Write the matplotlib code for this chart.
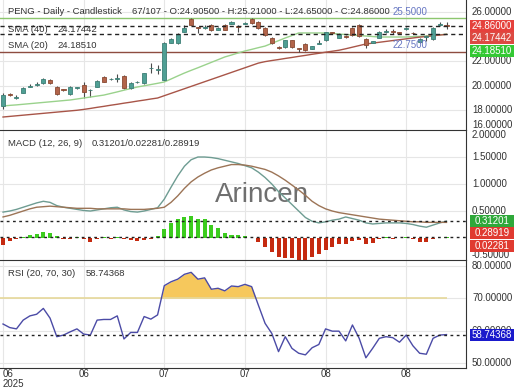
import numpy as np
import matplotlib.pyplot as plt
from matplotlib.patches import Rectangle
from matplotlib.transforms import blended_transform_factory

plt.rcParams['font.family'] = ['Liberation Sans', 'DejaVu Sans']

# ---- data (one value per daily candle) ----
opens = [18.33, 19.30, 19.00, 19.40, 19.90, 20.05, 20.20, 20.45, 19.88, 19.68,
         19.30, 19.78, 20.04, 19.60, 19.88, 20.70, 20.50, 20.53, 20.78, 19.80,
         20.25, 20.20, 21.40, 21.28, 20.45, 23.50, 23.47, 24.40, 25.45, 24.75,
         24.72, 24.94, 24.55, 24.94, 25.05, 24.80, 25.05, 25.45, 25.20, 24.70,
         23.88, 23.12, 23.15, 23.70, 23.05, 23.40, 23.00, 23.42, 23.70, 24.33,
         23.90, 24.05, 24.70, 24.94, 23.80, 23.50, 23.90, 24.35, 24.40, 24.30,
         24.60, 24.30, 23.55, 23.95, 23.80, 24.95, 24.905]
highs = [19.40, 19.35, 19.20, 19.85, 20.15, 20.25, 20.65, 20.50, 19.95, 19.75,
         19.95, 19.90, 20.30, 19.75, 20.45, 20.75, 20.60, 20.90, 20.82, 20.25,
         20.40, 21.05, 21.85, 21.70, 23.55, 23.85, 24.30, 24.90, 25.50, 24.80,
         24.90, 25.00, 24.80, 25.00, 25.25, 24.90, 25.20, 25.50, 25.25, 24.75,
         23.95, 23.20, 23.75, 23.75, 23.10, 23.45, 23.25, 23.70, 24.40, 24.40,
         24.25, 24.10, 24.75, 25.05, 23.85, 23.65, 24.45, 24.60, 24.60, 24.40,
         24.75, 24.35, 23.85, 24.10, 24.75, 25.15, 25.21]
lows = [18.10, 19.15, 18.90, 19.35, 19.85, 20.00, 20.15, 20.15, 19.20, 19.55,
        19.25, 19.70, 18.98, 19.05, 19.85, 20.25, 20.45, 20.30, 19.70, 19.70,
        20.20, 20.15, 21.00, 20.90, 20.35, 23.45, 23.40, 24.35, 24.90, 24.30,
        24.60, 24.45, 24.50, 24.50, 25.00, 24.35, 25.00, 25.05, 24.60, 24.05,
        23.40, 22.95, 23.10, 23.10, 22.75, 22.85, 22.95, 23.35, 23.65, 24.20,
        23.85, 23.90, 24.05, 24.00, 23.06, 23.45, 23.85, 24.25, 24.20, 24.20,
        24.50, 24.20, 23.50, 23.60, 23.75, 24.85, 24.65]
closes = [19.22, 19.20, 19.08, 19.80, 19.98, 20.12, 20.53, 20.20, 19.30, 19.60,
          19.88, 19.82, 19.47, 19.66, 20.37, 20.29, 20.56, 20.55, 19.80, 20.20,
          20.32, 21.00, 21.45, 21.30, 23.47, 23.80, 24.20, 24.70, 24.94, 24.70,
          24.80, 24.53, 24.70, 24.53, 25.15, 24.76, 25.10, 25.10, 24.70, 24.12,
          23.47, 23.05, 23.70, 23.15, 22.98, 22.90, 23.20, 23.50, 24.37, 24.28,
          24.20, 23.98, 24.12, 24.04, 23.30, 23.60, 24.37, 24.40, 24.35, 24.28,
          24.65, 24.25, 23.80, 23.98, 24.70, 25.00, 24.86]
sma20 = [18.33, 18.38, 18.42, 18.47, 18.52, 18.57, 18.62, 18.67, 18.72, 18.77,
         18.82, 18.90, 18.98, 19.06, 19.14, 19.22, 19.35, 19.48, 19.62, 19.75,
         19.88, 19.98, 20.08, 20.18, 20.29, 20.53, 20.78, 21.02, 21.24, 21.45,
         21.67, 21.89, 22.11, 22.33, 22.49, 22.66, 22.82, 22.95, 23.09, 23.22,
         23.44, 23.66, 23.88, 24.08, 24.29, 24.29, 24.29, 24.29, 24.29, 24.25,
         24.20, 24.16, 24.12, 24.08, 24.04, 24.00, 23.96, 23.96, 23.96, 23.96,
         23.96, 23.99, 24.01, 24.04, 24.09, 24.14, 24.1851]
sma40 = [17.43, 17.48, 17.53, 17.58, 17.63, 17.68, 17.73, 17.78, 17.83, 17.88,
         17.93, 17.98, 18.05, 18.13, 18.22, 18.30, 18.39, 18.47, 18.56, 18.64,
         18.73, 18.81, 18.90, 18.98, 19.17, 19.36, 19.55, 19.74, 19.93, 20.12,
         20.31, 20.50, 20.69, 20.88, 21.07, 21.26, 21.45, 21.64, 21.83, 21.95,
         22.04, 22.12, 22.21, 22.29, 22.38, 22.46, 22.55, 22.63, 22.72, 22.80,
         22.88, 23.00, 23.13, 23.26, 23.39, 23.46, 23.53, 23.60, 23.67, 23.74,
         23.81, 23.88, 23.95, 24.00, 24.06, 24.12, 24.17442]
macd = [0.48, 0.50, 0.53, 0.57, 0.61, 0.65, 0.68, 0.66, 0.60, 0.57,
        0.55, 0.53, 0.51, 0.50, 0.52, 0.54, 0.56, 0.57, 0.52, 0.49,
        0.48, 0.50, 0.53, 0.56, 0.72, 0.94, 1.15, 1.33, 1.45, 1.50,
        1.50, 1.49, 1.47, 1.44, 1.41, 1.38, 1.34, 1.30, 1.22, 1.12,
        1.00, 0.86, 0.74, 0.62, 0.50, 0.38, 0.31, 0.28, 0.30, 0.33,
        0.35, 0.39, 0.36, 0.33, 0.28, 0.26, 0.27, 0.28, 0.28, 0.28,
        0.27, 0.25, 0.22, 0.20, 0.24, 0.28, 0.31201]
signal = [0.39, 0.42, 0.46, 0.50, 0.54, 0.57, 0.58, 0.59, 0.58, 0.57,
          0.56, 0.55, 0.55, 0.55, 0.54, 0.54, 0.54, 0.54, 0.54, 0.53,
          0.53, 0.53, 0.54, 0.55, 0.57, 0.66, 0.78, 0.92, 1.04, 1.13,
          1.20, 1.26, 1.30, 1.33, 1.36, 1.36, 1.35, 1.33, 1.30, 1.27,
          1.22, 1.15, 1.07, 0.98, 0.89, 0.79, 0.68, 0.60, 0.54, 0.50,
          0.47, 0.45, 0.43, 0.41, 0.39, 0.37, 0.35, 0.34, 0.33, 0.32,
          0.31, 0.30, 0.30, 0.29, 0.29, 0.29, 0.28919]
hist = [-0.13, -0.06, -0.02, 0.01, 0.05, 0.08, 0.11, 0.09, 0.03, -0.01,
        -0.02, 0.01, -0.02, -0.07, -0.02, 0.01, -0.01, 0.02, -0.02, -0.04,
        -0.06, -0.03, -0.01, 0.04, 0.17, 0.27, 0.35, 0.39, 0.41, 0.36,
        0.35, 0.25, 0.19, 0.10, 0.06, 0.05, 0.04, 0.00, -0.07, -0.17,
        -0.26, -0.35, -0.37, -0.37, -0.41, -0.41, -0.35, -0.29, -0.23, -0.17,
        -0.12, -0.12, -0.05, -0.03, -0.12, -0.10, -0.02, 0.01, -0.02, 0.00,
        0.01, -0.02, -0.07, -0.08, -0.02, 0.00, 0.02281]
rsi = [62.0, 60.9, 60.5, 63.2, 64.5, 65.0, 66.8, 63.8, 58.1, 58.6,
       59.6, 60.5, 58.9, 58.6, 63.2, 63.4, 63.4, 64.5, 57.4, 59.4,
       59.4, 64.3, 63.5, 64.8, 73.8, 75.0, 75.8, 77.3, 77.9, 75.8,
       76.2, 72.7, 73.0, 72.2, 73.7, 73.5, 74.2, 73.5, 67.8, 62.2,
       59.1, 53.5, 58.1, 54.5, 53.0, 52.5, 54.7, 55.7, 60.5, 59.8,
       59.8, 56.8, 61.7, 57.6, 51.6, 54.5, 57.6, 58.1, 57.8, 56.4,
       58.6, 55.3, 53.0, 52.7, 57.6, 58.6, 58.74368]

month_ticks = [0, 12, 24, 36, 48, 60]
month_labels = ['06\n2025', '06', '07', '07', '08', '08']
high_level = 25.5
low_level = 22.75

# right-hand scale labels that are not hidden behind the value boxes
price_ticks = [16, 18, 20, 22, 26]
macd_ticks = [-0.5, 0.5, 1.0, 1.5, 2.0]
rsi_ticks = [50, 60, 70, 80]

# ---- layout (pixel based, 520x390) ----
W, H = 520, 390
PLOT_RIGHT = 466
TXT = '#333333'
GRID = '#e6e6e6'
LEG = 6.8

x = np.arange(len(closes))
o, h, l, c = map(np.array, (opens, highs, lows, closes))
rsi = np.array(rsi)

fig = plt.figure(figsize=(W / 100, H / 100), dpi=100)


def panel(top, bottom):
    ax = fig.add_axes([0, 1 - bottom / H, PLOT_RIGHT / W, (bottom - top) / H])
    ax.set_xlim(-0.45, 68.9)
    ax.set_xticks([])
    ax.set_yticks([])
    for s in ('left', 'top', 'bottom'):
        ax.spines[s].set_visible(False)
    ax.spines['right'].set_color(TXT)
    for v in month_ticks:
        ax.axvline(v, color=GRID, lw=0.8, zorder=0)
    return ax


ax_p = panel(0, 130)
ax_m = panel(130, 260)
ax_r = panel(260, 368)
for ax, sides in ((ax_m, ('top',)), (ax_r, ('top', 'bottom'))):
    for s in sides:
        ax.spines[s].set_visible(True)
        ax.spines[s].set_color(TXT)

ax_p.set_ylim(16.37, 26.98)
ax_m.set_ylim(-0.407, 2.0)
ax_r.set_ylim(48.46, 81.7)


def right_labels(ax, ticks):
    lo, hi = ax.get_ylim()
    per_px = (hi - lo) / (ax.get_position().height * H)
    tr = blended_transform_factory(ax.transAxes, ax.transData)
    for v in ticks:
        if lo < v < hi:
            ax.axhline(v, color=GRID, lw=0.8, zorder=0)
        yv = min(max(v, lo + 4.5 * per_px), hi - 5 * per_px)
        ax.text(1 + 6 / PLOT_RIGHT, yv, f'{v:.5f}', transform=tr, ha='left',
                va='center', fontsize=7, color=TXT, clip_on=False)


right_labels(ax_p, price_ticks)
right_labels(ax_m, macd_ticks)
right_labels(ax_r, rsi_ticks)


def value_boxes(ax, items):
    prev = None
    for val, label, color in items:
        yd = ax.transData.transform((0, val))[1]
        if prev is not None:
            yd = min(yd, prev - 12.3)
        prev = yd
        fig.add_artist(Rectangle((470 / W, (yd - 6) / H), 44 / W, 12 / H,
                                 transform=fig.transFigure, fc=color, ec='none'))
        fig.text(492 / W, yd / H, label, ha='center', va='center',
                 fontsize=7, color='white', zorder=5)


# ---- price panel ----
up = c >= o
body_col = np.where(up, '#4f9f94', '#b2644a')
edge_col = np.where(up, '#3d7f76', '#8a4a33')
ax_p.vlines(x, l, h, color='#4a4a4a', lw=0.8, zorder=2)
ax_p.bar(x, np.maximum(np.abs(c - o), 0.06), bottom=np.minimum(o, c), width=0.6,
         color=body_col, edgecolor=edge_col, lw=0.6, zorder=3)
ax_p.plot(x, sma20, color='#9ad28c', lw=1, zorder=2)
ax_p.plot(x, sma40, color='#a85548', lw=1, zorder=2)
ax_p.axhline(high_level, color='#8cc66e', lw=1, zorder=1)
ax_p.axhline(low_level, color='#8e4c40', lw=1, zorder=1)
ax_p.axhline(closes[-1], color='#222222', lw=1, ls=(0, (3, 2.5)), zorder=4)
ax_p.axhline(sma40[-1], color='#222222', lw=1, ls=(0, (3, 2.5)), zorder=4)
ax_p.text(58.0, high_level + 0.12, f'{high_level:.4f}', color='#6676c2',
          fontsize=7, va='bottom', zorder=5)
ax_p.text(58.0, low_level + 0.12, f'{low_level:.4f}', color='#6676c2',
          fontsize=7, va='bottom', zorder=5)

fig.text(8 / W, 1 - 12 / H, 'PENG - Daily - Candlestick', fontsize=LEG, color=TXT, va='center')
fig.text(132 / W, 1 - 12 / H,
         f'67/107 - O:{opens[-1]:.5f} - H:{highs[-1]:.5f} - L:{lows[-1]:.5f} - C:{closes[-1]:.5f}',
         fontsize=LEG, color=TXT, va='center')
fig.text(8 / W, 1 - 30 / H, 'SMA (40)', fontsize=LEG, color=TXT, va='center')
fig.text(57 / W, 1 - 30 / H, f'{sma40[-1]:.5f}', fontsize=LEG, color=TXT, va='center')
fig.text(8 / W, 1 - 46 / H, 'SMA (20)', fontsize=LEG, color=TXT, va='center')
fig.text(57 / W, 1 - 46 / H, f'{sma20[-1]:.5f}', fontsize=LEG, color=TXT, va='center')

value_boxes(ax_p, [(closes[-1], f'{closes[-1]:.5f}', '#e5403c'),
                   (sma40[-1], f'{sma40[-1]:.5f}', '#dc4a42'),
                   (sma20[-1], f'{sma20[-1]:.5f}', '#34c834')])

# ---- MACD panel ----
ax_m.text(262 / W, 1 - 195 / H, 'Arincen', transform=fig.transFigure, fontsize=20,
          color='#6f6f6f', ha='center', va='center', zorder=1)
hist_col = ['#3ccc1e' if v >= 0 else '#c52a10' for v in hist]
ax_m.bar(x, hist, width=0.6, color=hist_col, zorder=2)
ax_m.plot(x, macd, color='#6e9c92', lw=1, zorder=3)
ax_m.plot(x, signal, color='#9c7456', lw=1, zorder=3)
ax_m.axhline(macd[-1], color='#222222', lw=1, ls=(0, (2, 2.5)), zorder=4)
ax_m.axhline(hist[-1], color='#222222', lw=1, ls=(0, (2, 2.5)), zorder=4)
fig.text(8 / W, 1 - 143 / H, 'MACD (12, 26, 9)', fontsize=LEG, color=TXT, va='center')
fig.text(92 / W, 1 - 143 / H, f'{macd[-1]:.5f}/{hist[-1]:.5f}/{signal[-1]:.5f}',
         fontsize=LEG, color=TXT, va='center')
value_boxes(ax_m, [(macd[-1], f'{macd[-1]:.5f}', '#2fa83a'),
                   (signal[-1], f'{signal[-1]:.5f}', '#e03a30'),
                   (hist[-1], f'{hist[-1]:.5f}', '#e03a30')])

# ---- RSI panel ----
ax_r.fill_between(x, rsi, 70, where=rsi > 70, interpolate=True, color='#f6c85c', lw=0, zorder=1)
ax_r.hlines(70, -0.45, x[-1], color='#e6d89a', lw=1.2, zorder=2)
ax_r.plot(x, rsi, color='#4b4ba6', lw=1, zorder=3)
ax_r.axhline(rsi[-1], color='#222222', lw=1, ls=(0, (2, 2.5)), zorder=4)
fig.text(8 / W, 1 - 274 / H, 'RSI (20, 70, 30)', fontsize=LEG, color=TXT, va='center')
fig.text(86 / W, 1 - 274 / H, f'{rsi[-1]:.5f}', fontsize=LEG, color=TXT, va='center')
value_boxes(ax_r, [(rsi[-1], f'{rsi[-1]:.5f}', '#1a1acc')])

ax_r.set_xticks(month_ticks)
ax_r.set_xticklabels(month_labels)
ax_r.tick_params(axis='x', length=0, pad=1, labelsize=7, labelcolor=TXT)
first = ax_r.get_xticklabels()[0]
first.set_ha('left')
first.set_linespacing(1.0)

fig.savefig('out.png', dpi=100)
